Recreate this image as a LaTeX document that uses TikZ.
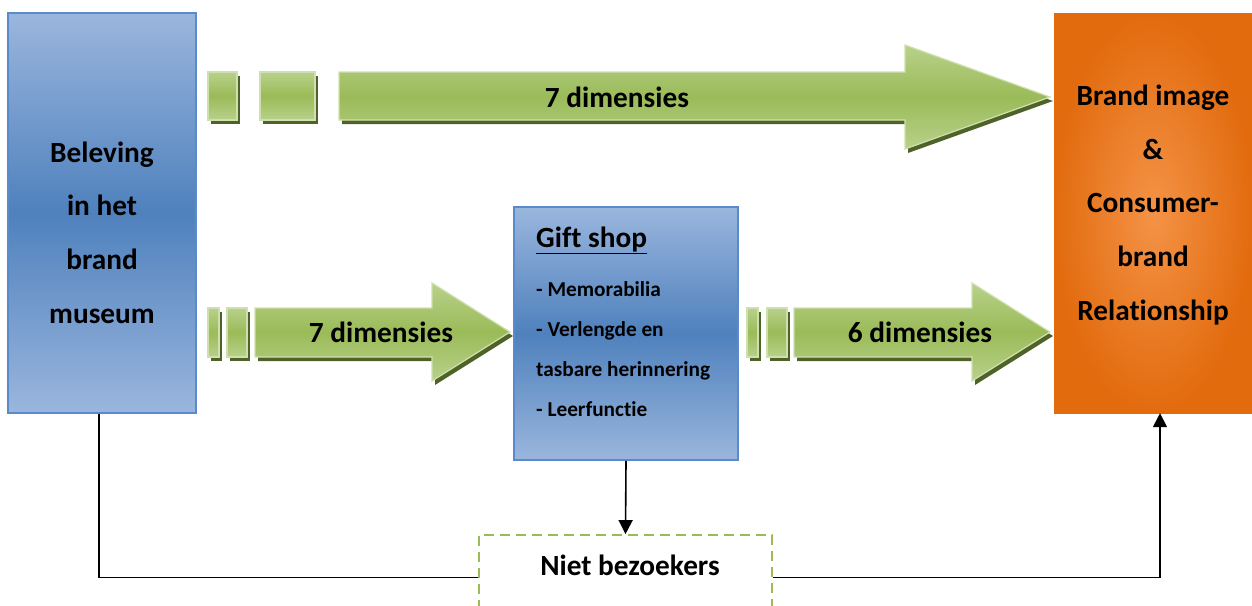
\documentclass[tikz,border=0pt]{standalone}
\usepackage{fontspec}
\setmainfont[Ligatures={NoCommon}]{Carlito}
\usetikzlibrary{arrows.meta}
\definecolor{bluebd}{HTML}{4F81BD}
\definecolor{bluelt}{HTML}{9AB6DD}
\definecolor{blueedge}{HTML}{5A8ACB}
\definecolor{grn}{HTML}{9BBB59}
\definecolor{grnlt}{HTML}{B8D18A}
\definecolor{grnedge}{HTML}{CFE0B0}
\definecolor{grndk}{HTML}{4F6228}
\definecolor{orng}{HTML}{E26B0E}
\definecolor{orlt}{HTML}{F49347}
\definecolor{dashgrn}{HTML}{9BBB59}
\newcommand\gshape[1]{\fill[gshadow] #1; \shade[garrow] #1;}
\tikzset{
  garrow/.style={top color=grnlt, bottom color=grnlt, middle color=grn, draw=grnedge, line width=1.2pt},
  gshadow/.style={fill=grndk, shift={(3,4)}},
  bluebox/.style={draw=blueedge, line width=1.8pt, top color=bluelt, bottom color=bluelt, middle color=bluebd, inner sep=0pt},
  orangebox/.style={inner color=orlt, outer color=orng, inner sep=0pt},
  bigtxt/.style={font=\fontsize{29.3}{53.7}\selectfont\bfseries, align=center, text=black},
  smalltxt/.style={font=\fontsize{21.3}{40}\selectfont\bfseries, anchor=base west, inner sep=0pt},
  conn/.style={draw=black, line width=1.6pt},
  tip/.style={-{Triangle[width=14pt,length=14pt]}}
}
\begin{document}
\begin{tikzpicture}[x=1pt,y=-1pt]
\useasboundingbox (0,0) rectangle (1252,605);
% boxes
\node[bluebox, minimum width=188pt, minimum height=400pt] (bel) at (102,213) {};
\node[bigtxt] (beltxt) at (102,232.5) {Beleving\\in het\\brand\\museum};
\node[orangebox, minimum width=198pt, minimum height=400pt] (brand) at (1153,213) {};
\node[bigtxt] (brandtxt) at (1153,205) {Brand image\\\&\\Consumer-\\brand\\Relationship};
\node[bluebox, minimum width=224pt, minimum height=253pt] (gift) at (626,333.5) {};
\node[font=\fontsize{29.3}{35}\selectfont\bfseries, anchor=base west, inner sep=0pt] (gifttitle) at (536,247) {\underline{Gift shop}};
\node[smalltxt] (g1) at (536,296) {- Memorabilia};
\node[smalltxt] (g2) at (536,336) {- Verlengde en};
\node[smalltxt] (g3) at (536,376) {tasbare herinnering};
\node[smalltxt] (g4) at (536,416) {- Leerfunctie};
\node[draw=dashgrn, line width=1.8pt, dash pattern=on 10pt off 6pt, minimum width=293pt, minimum height=85pt, inner sep=0pt] (niet) at (625.5,577.5) {};
\node[bigtxt] (niettxt) at (630,565) {Niet bezoekers};
% green arrows
\gshape{(208,72) rectangle (237,120)}
\gshape{(260,72) rectangle (315,120)}
\gshape{(339,72) -- (905,72) -- (905,45) -- (1050,97) -- (905,149) -- (905,120) -- (339,120) -- cycle}
\node[bigtxt] (d1) at (617,97) {7 dimensies};
\gshape{(208,308) rectangle (219,357)}
\gshape{(227,308) rectangle (247,357)}
\gshape{(255,308) -- (432,308) -- (432,283) -- (510,332) -- (432,381) -- (432,357) -- (255,357) -- cycle}
\node[bigtxt] (d2) at (381,332) {7 dimensies};
\gshape{(747,308) rectangle (758,357)}
\gshape{(767,308) rectangle (787,357)}
\gshape{(794,308) -- (972,308) -- (972,283) -- (1050,332) -- (972,381) -- (972,357) -- (794,357) -- cycle}
\node[bigtxt] (d3) at (920,332) {6 dimensies};
% connectors
\draw[conn] ([xshift=-3pt]bel.south) |- (niet.west);
\draw[conn, tip] (niet.east) -| ([xshift=7pt]brand.south);
\draw[conn, tip] (gift.south) -- (niet.north);
\end{tikzpicture}
\end{document}
